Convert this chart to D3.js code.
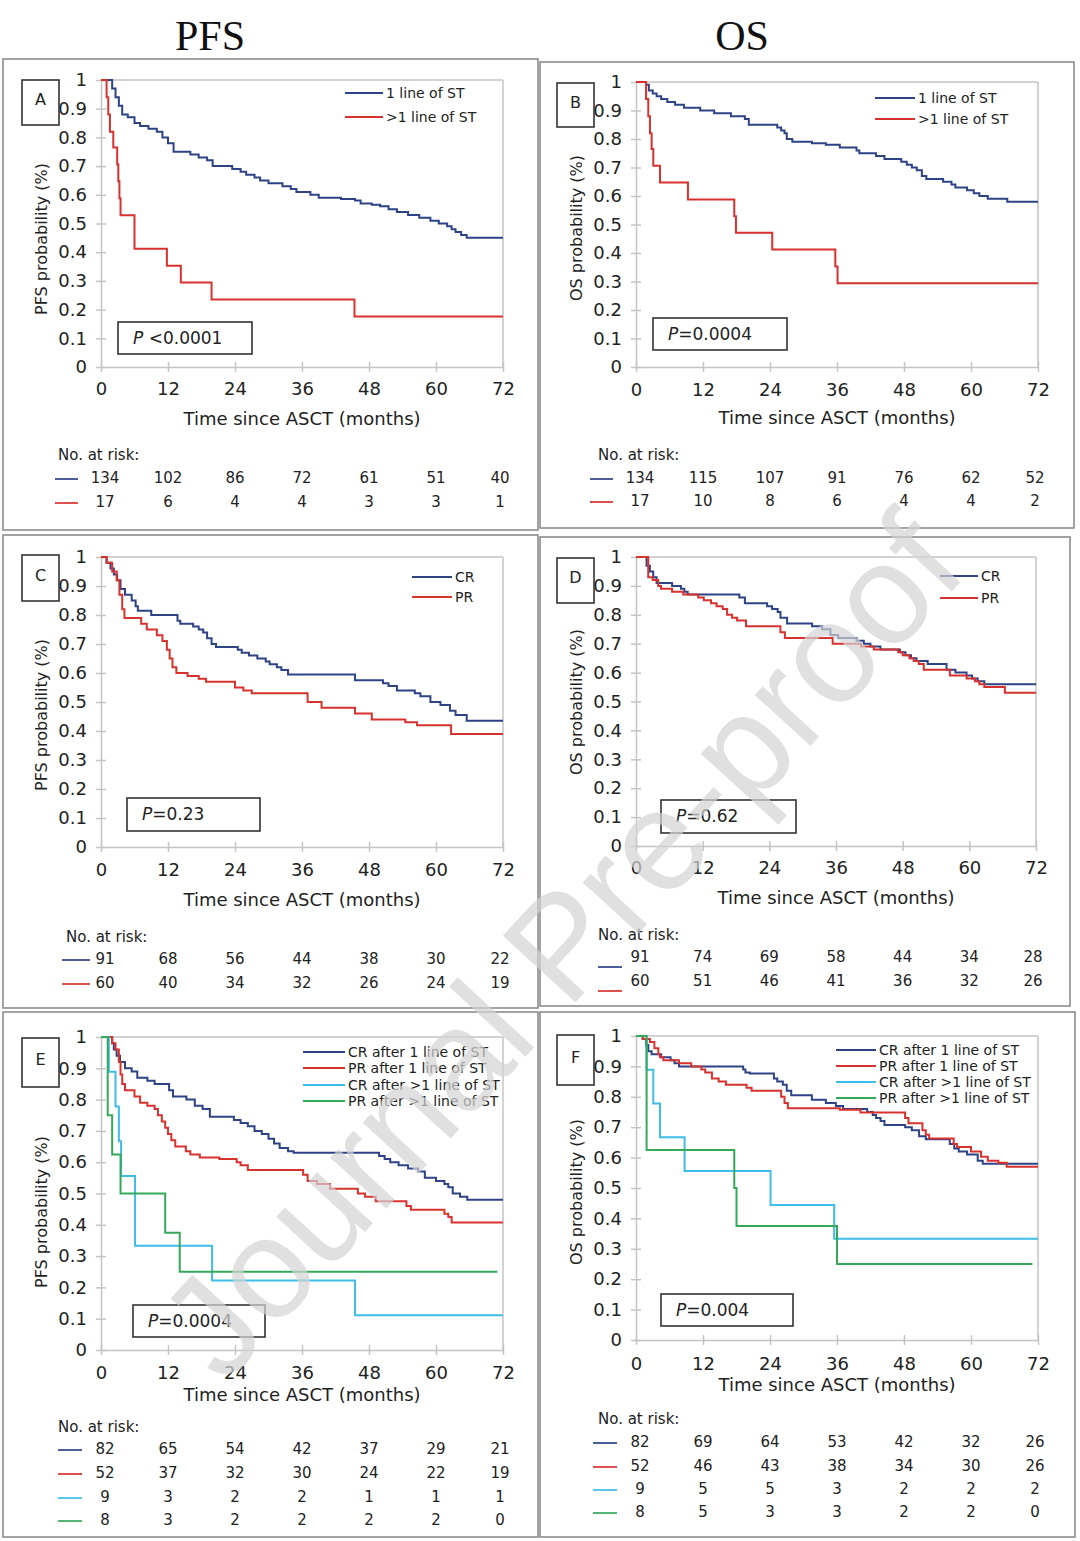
<!DOCTYPE html>
<html><head><meta charset="utf-8">
<script src="https://cdn.jsdelivr.net/npm/d3@7"></script>
<style>
body{margin:0;background:#fff}
svg{display:block}
text{white-space:pre}
</style>
</head><body>
<svg id="c" width="1080" height="1541"></svg>
<script>
// ---------------- DATA ----------------
const columnTitles = ["PFS", "OS"];
const panelLetters = ["A", "B", "C", "D", "E", "F"];
const timeTicks = [0, 12, 24, 36, 48, 60, 72];
const probTicks = [0, 0.1, 0.2, 0.3, 0.4, 0.5, 0.6, 0.7, 0.8, 0.9, 1];
const xTitle = "Time since ASCT (months)";
const yTitles = ["PFS probability (%)", "OS probability (%)", "PFS probability (%)", "OS probability (%)", "PFS probability (%)", "OS probability (%)"];
const pTexts = [" <0.0001", "=0.0004", "=0.23", "=0.62", "=0.0004", "=0.004"];
const riskLabel = "No. at risk:";

const legendLines = ["1 line of ST", ">1 line of ST"];
const legendResp = ["CR", "PR"];
const legendCombo = ["CR after 1 line of ST", "PR after 1 line of ST", "CR after >1 line of ST", "PR after >1 line of ST"];

// Panel A (PFS by lines of systemic therapy)
const pfsOneLine = [[0,1],[2,0.97],[2.6,0.94],[3.2,0.91],[3.8,0.88],[4.8,0.87],[6,0.85],[7,0.84],[8.5,0.83],[10,0.82],[11,0.80],[12,0.78],[13,0.75],[16,0.74],[17.5,0.73],[19,0.72],[20,0.70],[23.5,0.69],[25,0.68],[26,0.67],[27.5,0.66],[28.5,0.65],[30,0.64],[32.5,0.63],[34,0.62],[35,0.61],[37.5,0.60],[39,0.59],[43,0.585],[45.5,0.58],[46.5,0.57],[48.5,0.565],[50,0.56],[51.5,0.55],[53,0.54],[55,0.53],[57,0.52],[59,0.51],[60.5,0.50],[62,0.49],[62.8,0.48],[63.5,0.47],[64.5,0.46],[65.5,0.45],[72,0.45]];
const pfsMultiLine = [[0,1],[1,0.94],[1.3,0.88],[1.6,0.82],[2.2,0.765],[2.9,0.706],[3.1,0.647],[3.3,0.588],[3.5,0.529],[6,0.412],[11.8,0.353],[14.3,0.294],[19.8,0.235],[45.4,0.176],[72,0.176]];
// Panel B (OS by lines)
const osOneLine = [[0,1],[1.8,0.99],[2.3,0.97],[3,0.96],[3.7,0.95],[4.5,0.94],[5.6,0.93],[7,0.92],[8.6,0.91],[11.5,0.90],[14,0.89],[17,0.88],[19.5,0.87],[20.2,0.85],[25.3,0.84],[26,0.83],[26.6,0.82],[27,0.80],[28,0.79],[31.5,0.785],[34,0.78],[36.5,0.77],[39.5,0.76],[40,0.75],[43,0.74],[44.5,0.73],[47.5,0.72],[48.5,0.71],[49.4,0.70],[50.3,0.69],[51.2,0.67],[52,0.66],[55,0.65],[56.5,0.64],[57.2,0.63],[59.3,0.62],[60.5,0.61],[61.5,0.60],[63,0.59],[66.5,0.58],[72,0.58]];
const osMultiLine = [[0,1],[1.8,0.94],[2.2,0.88],[2.5,0.82],[2.8,0.765],[3.1,0.706],[4.3,0.647],[9.3,0.588],[17.6,0.529],[17.9,0.471],[24.4,0.412],[35.7,0.353],[36.1,0.294],[72,0.294]];
// Panel C (PFS by response)
const pfsCR = [[0,1],[1,0.98],[1.7,0.96],[2.3,0.94],[2.9,0.92],[3.5,0.89],[4.3,0.87],[5.5,0.85],[6.2,0.83],[6.6,0.815],[9,0.80],[13.7,0.78],[14.2,0.77],[16.5,0.76],[17.5,0.75],[18.3,0.74],[19,0.72],[19.8,0.70],[20.6,0.69],[24.5,0.68],[25.2,0.67],[26.5,0.66],[28,0.65],[29.5,0.64],[30.2,0.63],[31.5,0.62],[32.3,0.61],[33.5,0.595],[45.5,0.575],[50.5,0.565],[51.5,0.555],[53,0.54],[56.2,0.53],[57.2,0.52],[59,0.50],[60.8,0.49],[62.5,0.47],[63.5,0.455],[65.5,0.435],[72,0.435]];
const pfsPR = [[0,1],[1,0.98],[2,0.95],[2.8,0.92],[3.3,0.87],[3.8,0.82],[4.2,0.79],[7.2,0.77],[8.2,0.75],[10,0.73],[11,0.71],[11.8,0.68],[12.3,0.65],[12.8,0.62],[13.5,0.60],[15.5,0.59],[17.5,0.58],[18.8,0.57],[24,0.55],[25.5,0.54],[27,0.53],[37,0.50],[39.5,0.48],[45.5,0.46],[48.5,0.44],[54.5,0.43],[56.6,0.42],[62.7,0.39],[72,0.39]];
// Panel D (OS by response)
const osCR = [[0,1],[1.9,0.97],[2.5,0.95],[3.1,0.93],[3.7,0.91],[6.5,0.90],[8.1,0.89],[8.7,0.88],[9.3,0.87],[18.6,0.86],[19.6,0.84],[23.6,0.83],[24.5,0.82],[25.5,0.81],[26,0.79],[27.2,0.77],[31.7,0.76],[33.5,0.75],[35,0.73],[36.4,0.72],[39.7,0.71],[41,0.70],[42.2,0.69],[44,0.68],[47.5,0.67],[48.5,0.66],[49.5,0.65],[50.5,0.64],[52.5,0.63],[55.9,0.61],[57.5,0.60],[59.5,0.59],[60.5,0.58],[61.5,0.57],[62.7,0.56],[72,0.56]];
const osPR = [[0,1],[2.2,0.93],[3,0.92],[4,0.90],[4.5,0.89],[6.5,0.88],[8.5,0.87],[11.2,0.86],[12.2,0.85],[13.5,0.84],[14.5,0.83],[15.6,0.82],[16.4,0.80],[17.3,0.79],[18.2,0.78],[19.8,0.76],[26,0.74],[26.8,0.72],[35.4,0.70],[40.5,0.69],[42.8,0.68],[47.2,0.67],[48,0.66],[49.2,0.65],[50,0.64],[50.9,0.63],[51.8,0.61],[56.5,0.59],[59.5,0.58],[61,0.57],[61.8,0.56],[62.7,0.55],[66.4,0.53],[72,0.53]];
// Panel E (PFS by response and lines)
const pfsCR1 = [[0,1],[2,0.98],[2.3,0.96],[2.8,0.94],[3.4,0.92],[4.3,0.90],[5.5,0.89],[6.5,0.87],[8.3,0.86],[9.6,0.85],[12.2,0.83],[12.9,0.81],[15.3,0.80],[16.8,0.78],[18.2,0.77],[19.5,0.745],[23.8,0.735],[25,0.725],[26.3,0.715],[27.5,0.70],[28.8,0.69],[30,0.675],[31,0.66],[32,0.645],[33.5,0.635],[34.5,0.63],[49.8,0.62],[50.8,0.61],[51.8,0.60],[53.3,0.59],[55,0.58],[56.8,0.57],[58,0.55],[60,0.54],[61.5,0.53],[62.2,0.52],[63,0.50],[64.3,0.49],[65.6,0.48],[72,0.48]];
const pfsPR1 = [[0,1],[2,0.98],[2.6,0.96],[3.2,0.92],[3.5,0.88],[3.8,0.85],[4.3,0.83],[6,0.81],[7,0.79],[8.3,0.78],[9.6,0.77],[10.2,0.75],[10.9,0.73],[11.5,0.71],[12,0.69],[12.6,0.67],[13.3,0.65],[15.2,0.635],[16,0.625],[17.7,0.615],[21.2,0.61],[24.3,0.60],[25,0.59],[26.3,0.575],[36.2,0.56],[37,0.54],[38.7,0.53],[41,0.515],[46,0.50],[47.3,0.49],[49.2,0.475],[54.7,0.46],[55.5,0.448],[61.5,0.435],[62.2,0.425],[62.8,0.407],[72,0.407]];
const pfsCRm = [[0,1],[1.4,0.889],[2.6,0.778],[3.2,0.667],[3.6,0.556],[6.1,0.333],[19.9,0.222],[45.5,0.111],[72,0.111]];
const pfsPRm = [[0,1],[1.2,0.75],[2,0.625],[3.5,0.5],[11.5,0.375],[14.1,0.25],[71,0.25]];
// Panel F (OS by response and lines)
const osCR1 = [[0,1],[1.2,0.99],[1.8,0.97],[2.2,0.95],[2.8,0.94],[4.5,0.93],[6.2,0.92],[6.9,0.91],[7.7,0.90],[19.2,0.89],[19.6,0.88],[20.4,0.877],[24.7,0.86],[25.3,0.85],[26.3,0.84],[27,0.82],[27.8,0.805],[31.5,0.79],[34,0.78],[35.8,0.77],[37.1,0.76],[41.4,0.75],[42.4,0.74],[43,0.73],[43.8,0.72],[44.5,0.707],[48.2,0.70],[49.4,0.69],[50.7,0.67],[51.9,0.66],[56.2,0.645],[57,0.63],[57.8,0.62],[59.3,0.61],[61.2,0.59],[62.1,0.58],[72,0.58]];
const osPR1 = [[0,1],[1.2,0.99],[2.5,0.98],[3.3,0.96],[4,0.94],[4.3,0.93],[4.9,0.92],[7.7,0.91],[9.9,0.90],[11.7,0.89],[12.4,0.88],[13.6,0.86],[14.8,0.85],[16.1,0.84],[19.8,0.83],[20.7,0.82],[26,0.80],[26.6,0.78],[27.2,0.762],[36.5,0.757],[40.2,0.748],[48.2,0.73],[48.8,0.713],[51.3,0.69],[51.9,0.675],[52.5,0.663],[56.9,0.645],[57.5,0.635],[60,0.62],[61.8,0.603],[63,0.59],[64.9,0.583],[66.4,0.57],[72,0.57]];
const osCRm = [[0,1],[1.9,0.889],[3.1,0.778],[4.3,0.667],[8.7,0.556],[24.1,0.444],[35.5,0.333],[72,0.333]];
const osPRm = [[0,1],[1.9,0.625],[17.6,0.5],[18,0.375],[36,0.25],[71,0.25]];

// Numbers at risk
const riskA = [[134,102,86,72,61,51,40],[17,6,4,4,3,3,1]];
const riskB = [[134,115,107,91,76,62,52],[17,10,8,6,4,4,2]];
const riskC = [[91,68,56,44,38,30,22],[60,40,34,32,26,24,19]];
const riskD = [[91,74,69,58,44,34,28],[60,51,46,41,36,32,26]];
const riskE = [[82,65,54,42,37,29,21],[52,37,32,30,24,22,19],[9,3,2,2,1,1,1],[8,3,2,2,2,2,0]];
const riskF = [[82,69,64,53,42,32,26],[52,46,43,38,34,30,26],[9,5,5,3,2,2,2],[8,5,3,3,2,2,0]];

const watermark = "Journal Pre-proof";

// ---------------- STYLE / LAYOUT ----------------
const BLUE = "#2d4386", RED = "#d8322f", CYAN = "#3dbde8", GREEN = "#35a95a";
const GRID = "#c4c4c4";
const FONT = "DejaVu Sans, sans-serif";

const panels = [
  {series:[pfsOneLine,pfsMultiLine], colors:[BLUE,RED], legend:legendLines, risk:riskA,
   border:[3,59,535,471], px:[101,503], py:[80,367], letter:[22,80,37,45], yT:[41,239],
   tickY:389, titleY:419, pBox:[118,322,134,32], lg:{x:345,len:38,y:[93,117]},
   rl:{x:58,y:455,rows:[478,502],dash:[55,78],dd:0}},
  {series:[osOneLine,osMultiLine], colors:[BLUE,RED], legend:legendLines, risk:riskB,
   border:[540,62,534,466], px:[636,1038], py:[82,367], letter:[557,83,37,44], yT:[576,228],
   tickY:390, titleY:418, pBox:[653,318,134,32], lg:{x:875,len:40,y:[98,119]},
   rl:{x:598,y:455,rows:[478,501],dash:[590,613],dd:0}},
  {series:[pfsCR,pfsPR], colors:[BLUE,RED], legend:legendResp, risk:riskC,
   border:[3,535,535,473], px:[101,503], py:[557,847], letter:[22,555,37,46], yT:[41,715],
   tickY:870, titleY:900, pBox:[127,798,133,33], lg:{x:412,len:40,y:[577,597]},
   rl:{x:66,y:937,rows:[959,983],dash:[62,90],dd:0}},
  {series:[osCR,osPR], colors:[BLUE,RED], legend:legendResp, risk:riskD,
   border:[540,537,530,469], px:[636,1036], py:[557,846], letter:[557,558,37,45], yT:[576,702],
   tickY:868, titleY:898, pBox:[661,800,135,33], lg:{x:940,len:38,y:[576,598]},
   rl:{x:598,y:935,rows:[957,981],dash:[598,622],dd:9}},
  {series:[pfsCR1,pfsPR1,pfsCRm,pfsPRm], colors:[BLUE,RED,CYAN,GREEN], legend:legendCombo, risk:riskE,
   border:[3,1012,535,525], px:[101,503], py:[1037,1350], letter:[22,1038,37,49], yT:[41,1212],
   tickY:1373, titleY:1395, pBox:[133,1305,132,32], lg:{x:303,len:42,y:[1052,1068,1085,1101]},
   rl:{x:58,y:1427,rows:[1449,1473,1497,1520],dash:[58,82],dd:0}},
  {series:[osCR1,osPR1,osCRm,osPRm], colors:[BLUE,RED,CYAN,GREEN], legend:legendCombo, risk:riskF,
   border:[540,1012,535,525], px:[636,1038], py:[1036,1340], letter:[557,1035,37,50], yT:[576,1192],
   tickY:1364, titleY:1385, pBox:[661,1294,132,32], lg:{x:836,len:40,y:[1050,1066,1082,1098]},
   rl:{x:598,y:1419,rows:[1442,1466,1489,1512],dash:[593,617],dd:0}}
];

// ---------------- DRAW ----------------
const svg = d3.select("#c");
svg.append("rect").attr("width",1080).attr("height",1541).attr("fill","#fff");

svg.selectAll("text.col").data(columnTitles).join("text").attr("class","col")
  .attr("x",(d,i)=> i===0 ? 210 : 742).attr("y",50)
  .attr("text-anchor","middle").attr("font-family","Liberation Serif, serif")
  .attr("font-size",42).attr("fill","#111").text(d=>d);

const fmt = d => (d===0||d===1) ? String(d) : d.toFixed(1);

panels.forEach((p,pi) => {
  const g = svg.append("g");
  g.append("rect").attr("x",p.border[0]).attr("y",p.border[1]).attr("width",p.border[2]).attr("height",p.border[3])
    .attr("fill","none").attr("stroke","#8c8c8c").attr("stroke-width",1.6);

  const x = d3.scaleLinear().domain([0,72]).range(p.px);
  const y = d3.scaleLinear().domain([0,1]).range([p.py[1], p.py[0]]);

  g.append("line").attr("x1",x(0)).attr("x2",x(72)).attr("y1",y(1)).attr("y2",y(1)).attr("stroke",GRID).attr("stroke-width",1.5);
  g.append("line").attr("x1",x(72)).attr("x2",x(72)).attr("y1",y(0)).attr("y2",y(1)).attr("stroke",GRID).attr("stroke-width",1.5);

  const ya = g.append("g").attr("transform",`translate(${x(0)},0)`)
    .call(d3.axisLeft(y).tickValues(probTicks).tickFormat(fmt).tickSize(5).tickSizeOuter(0).tickPadding(9));
  ya.attr("font-size",18).attr("font-family",FONT);
  ya.select(".domain").attr("stroke",GRID).attr("stroke-width",1.5);
  ya.selectAll(".tick line").attr("x1",-5).attr("x2",5).attr("stroke",GRID).attr("stroke-width",1.5);
  ya.selectAll(".tick text").attr("fill","#222");

  const xa = g.append("g").attr("transform",`translate(0,${y(0)})`)
    .call(d3.axisBottom(x).tickValues(timeTicks).tickSize(5).tickSizeOuter(0));
  xa.attr("font-size",18).attr("font-family",FONT);
  xa.select(".domain").attr("stroke",GRID).attr("stroke-width",1.5);
  xa.selectAll(".tick line").attr("y1",-5).attr("y2",5).attr("stroke",GRID).attr("stroke-width",1.5);
  xa.selectAll(".tick text").attr("fill","#222").attr("y",p.tickY - y(0)).attr("dy","0.35em");

  g.append("text").attr("x",(p.px[0]+p.px[1])/2).attr("y",p.titleY).attr("dy","0.35em")
    .attr("text-anchor","middle").attr("font-family",FONT).attr("font-size",18).attr("fill","#222").text(xTitle);
  g.append("text").attr("transform",`translate(${p.yT[0]},${p.yT[1]}) rotate(-90)`).attr("dy","0.35em")
    .attr("text-anchor","middle").attr("font-family",FONT).attr("font-size",16).attr("fill","#222").text(yTitles[pi]);

  const line = d3.line().x(d=>x(d[0])).y(d=>y(d[1])).curve(d3.curveStepAfter);
  g.selectAll("path.km").data(p.series).join("path").attr("class","km")
    .attr("d",line).attr("fill","none").attr("stroke",(d,i)=>p.colors[i]).attr("stroke-width",2);

  const lg = g.selectAll("g.lg").data(p.legend).join("g").attr("class","lg");
  lg.append("line").attr("x1",p.lg.x).attr("x2",p.lg.x+p.lg.len).attr("y1",(d,i)=>p.lg.y[i]).attr("y2",(d,i)=>p.lg.y[i])
    .attr("stroke",(d,i)=>p.colors[i]).attr("stroke-width",2);
  lg.append("text").attr("x",p.lg.x+p.lg.len+3).attr("y",(d,i)=>p.lg.y[i]).attr("dy","0.35em")
    .attr("font-family",FONT).attr("font-size",14).attr("fill","#222").text(d=>d);

  g.append("rect").attr("x",p.letter[0]).attr("y",p.letter[1]).attr("width",p.letter[2]).attr("height",p.letter[3])
    .attr("fill","none").attr("stroke","#333").attr("stroke-width",1.6);
  g.append("text").attr("x",p.letter[0]+p.letter[2]/2).attr("y",p.letter[1]+p.letter[3]/2 - 3).attr("dy","0.35em")
    .attr("text-anchor","middle").attr("font-family",FONT).attr("font-size",16).attr("fill","#222").text(panelLetters[pi]);

  g.append("rect").attr("x",p.pBox[0]).attr("y",p.pBox[1]).attr("width",p.pBox[2]).attr("height",p.pBox[3])
    .attr("fill","#fff").attr("stroke","#333").attr("stroke-width",1.6);
  const pt = g.append("text").attr("x",p.pBox[0]+15).attr("y",p.pBox[1]+p.pBox[3]/2).attr("dy","0.35em")
    .attr("font-family",FONT).attr("font-size",17).attr("fill","#222");
  pt.append("tspan").attr("font-style","italic").text("P");
  pt.append("tspan").text(pTexts[pi]);

  g.append("text").attr("x",p.rl.x).attr("y",p.rl.y).attr("dy","0.35em")
    .attr("font-family",FONT).attr("font-size",15).attr("fill","#222").text(riskLabel);
  p.risk.forEach((row,ri) => {
    const ry = p.rl.rows[ri];
    g.append("line").attr("x1",p.rl.dash[0]).attr("x2",p.rl.dash[1]).attr("y1",ry+1+p.rl.dd).attr("y2",ry+1+p.rl.dd)
      .attr("stroke",p.colors[ri]).attr("stroke-width",2).attr("opacity",0.85);
    g.selectAll(null).data(row).join("text")
      .attr("x",(d,i)=> x(timeTicks[i]) + (i===0 ? 4 : (i===6 ? -3 : 0)))
      .attr("y",ry).attr("dy","0.35em").attr("text-anchor","middle")
      .attr("font-family",FONT).attr("font-size",15).attr("fill","#222").text(d=>d);
  });
});

// watermark
svg.append("text").attr("transform","translate(560,945) rotate(-47.5)").attr("dy","0.35em")
  .attr("text-anchor","middle").attr("font-family","Liberation Sans, Arial, sans-serif")
  .attr("font-size",143).attr("fill","#d4d4d4").attr("opacity",0.7).text(watermark);
</script>
</body></html>
